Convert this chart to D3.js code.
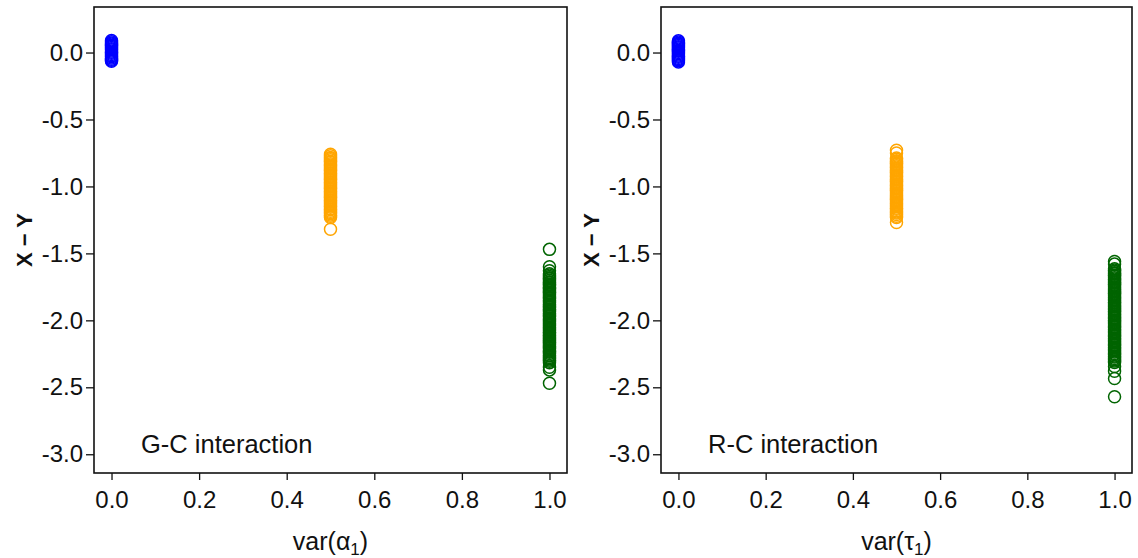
<!DOCTYPE html>
<html>
<head>
<meta charset="utf-8">
<script src="https://cdn.jsdelivr.net/npm/d3@7"></script>
<style>
  body { margin: 0; background: #fff; }
  svg { display: block; }
  text { font-family: "Liberation Sans", Arial, Helvetica, sans-serif; }
</style>
</head>
<body>
<svg id="chart" width="1138" height="558"></svg>
<script>
// ---------- data ----------
const xTicks = [0.0, 0.2, 0.4, 0.6, 0.8, 1.0];
const yTicks = [0.0, -0.5, -1.0, -1.5, -2.0, -2.5, -3.0];
const groupX = [0.0, 0.5, 1.0];
const groupColors = ["#0000FF", "#FFA500", "#006400"];

const gcBlue = [0.090, 0.081, 0.072, 0.063, 0.055, 0.046, 0.037, 0.029, 0.020, 0.011, 0.003, -0.006, -0.015, -0.024, -0.032, -0.041, -0.050, -0.058, -0.065];
const gcOrange = [-0.760, -0.770, -0.783, -0.792, -0.801, -0.812, -0.820, -0.831, -0.839, -0.850, -0.859, -0.868, -0.879, -0.887, -0.898, -0.906, -0.917, -0.926, -0.935, -0.946, -0.954, -0.965, -0.973, -0.984, -0.993, -1.002, -1.013, -1.021, -1.032, -1.040, -1.051, -1.060, -1.069, -1.080, -1.088, -1.099, -1.107, -1.118, -1.127, -1.136, -1.147, -1.155, -1.166, -1.174, -1.185, -1.194, -1.203, -1.214, -1.222, -1.232, -1.320];
const gcGreen = [-1.47, -1.60, -1.63, -1.652, -1.661, -1.673, -1.682, -1.690, -1.701, -1.712, -1.720, -1.731, -1.739, -1.751, -1.760, -1.768, -1.779, -1.790, -1.798, -1.809, -1.818, -1.829, -1.837, -1.848, -1.856, -1.867, -1.878, -1.886, -1.897, -1.905, -1.916, -1.925, -1.934, -1.945, -1.953, -1.964, -1.972, -1.983, -1.991, -2.002, -2.011, -2.020, -2.031, -2.040, -2.049, -2.058, -2.069, -2.077, -2.088, -2.096, -2.107, -2.115, -2.126, -2.135, -2.144, -2.153, -2.164, -2.172, -2.183, -2.191, -2.202, -2.210, -2.221, -2.230, -2.239, -2.248, -2.259, -2.267, -2.278, -2.286, -2.297, -2.305, -2.316, -2.350, -2.370, -2.470];

const rcBlue = [0.088, 0.079, 0.070, 0.061, 0.052, 0.044, 0.035, 0.026, 0.017, 0.009, 0.000, -0.009, -0.018, -0.027, -0.035, -0.044, -0.053, -0.062, -0.070];
const rcOrange = [-0.730, -0.750, -0.788, -0.797, -0.808, -0.816, -0.827, -0.835, -0.846, -0.855, -0.864, -0.875, -0.883, -0.894, -0.902, -0.913, -0.922, -0.931, -0.942, -0.950, -0.961, -0.969, -0.980, -0.989, -0.998, -1.009, -1.017, -1.028, -1.036, -1.047, -1.056, -1.065, -1.076, -1.084, -1.095, -1.103, -1.114, -1.123, -1.132, -1.143, -1.151, -1.162, -1.170, -1.181, -1.190, -1.199, -1.210, -1.222, -1.232, -1.270];
const rcGreen = [-1.56, -1.58, -1.615, -1.624, -1.633, -1.644, -1.652, -1.663, -1.671, -1.682, -1.691, -1.700, -1.711, -1.719, -1.730, -1.738, -1.749, -1.758, -1.767, -1.778, -1.786, -1.797, -1.805, -1.816, -1.825, -1.834, -1.845, -1.853, -1.864, -1.872, -1.883, -1.892, -1.901, -1.912, -1.920, -1.931, -1.939, -1.950, -1.959, -1.968, -1.979, -1.987, -1.998, -2.006, -2.017, -2.026, -2.035, -2.046, -2.054, -2.065, -2.073, -2.084, -2.093, -2.102, -2.113, -2.121, -2.132, -2.140, -2.151, -2.160, -2.169, -2.180, -2.188, -2.199, -2.207, -2.218, -2.227, -2.236, -2.247, -2.255, -2.266, -2.274, -2.285, -2.294, -2.303, -2.314, -2.345, -2.380, -2.435, -2.570];

const panels = [
  { label: "G-C interaction", greek: "α", series: [gcBlue, gcOrange, gcGreen], box: [94, 567] },
  { label: "R-C interaction", greek: "τ", series: [rcBlue, rcOrange, rcGreen], box: [661, 1132] }
];

// ---------- drawing ----------
const svg = d3.select("#chart");
const boxTop = 7, boxBottom = 473;
const fmt = d => d.toFixed(1);
const FS = 24;

panels.forEach(p => {
  const x = d3.scaleLinear().domain([-0.04, 1.04]).range(p.box);
  const y = d3.scaleLinear().domain([-3.14, 0.34]).range([boxBottom, boxTop]);
  const g = svg.append("g");

  // points
  p.series.forEach((vals, i) => {
    g.append("g").selectAll("circle").data(vals).join("circle")
      .attr("cx", x(groupX[i]))
      .attr("cy", d => y(d))
      .attr("r", 6)
      .attr("fill", "none")
      .attr("stroke", groupColors[i])
      .attr("stroke-width", 1.5);
  });

  // box
  g.append("rect")
    .attr("x", p.box[0]).attr("y", boxTop)
    .attr("width", p.box[1] - p.box[0]).attr("height", boxBottom - boxTop)
    .attr("fill", "none").attr("stroke", "#111").attr("stroke-width", 1.6);

  // x axis
  const xa = g.append("g").attr("transform", `translate(0,${boxBottom})`)
    .call(d3.axisBottom(x).tickValues(xTicks).tickFormat(fmt).tickSize(7).tickPadding(11));
  xa.select(".domain").remove();
  xa.selectAll("line").attr("stroke", "#111").attr("stroke-width", 1.3);
  xa.selectAll("text").attr("font-size", FS).attr("fill", "#111")
    .attr("font-family", '"Liberation Sans", Arial, sans-serif');

  // y axis
  const ya = g.append("g").attr("transform", `translate(${p.box[0]},0)`)
    .call(d3.axisLeft(y).tickValues(yTicks).tickFormat(fmt).tickSize(8).tickPadding(3));
  ya.select(".domain").remove();
  ya.selectAll("line").attr("stroke", "#111").attr("stroke-width", 1.3);
  ya.selectAll("text").attr("font-size", FS).attr("fill", "#111")
    .attr("font-family", '"Liberation Sans", Arial, sans-serif');

  // y title
  g.append("text")
    .attr("transform", `translate(${p.box[0] - 62},${(boxTop + boxBottom) / 2}) rotate(-90)`)
    .attr("text-anchor", "middle")
    .attr("font-size", 22).attr("font-weight", "bold").attr("fill", "#111")
    .text("X − Y");

  // x title
  const xt = g.append("text")
    .attr("x", (x(0) + x(1)) / 2).attr("y", 550)
    .attr("text-anchor", "middle").attr("font-size", 25).attr("fill", "#111");
  xt.append("tspan").text("var(" + p.greek);
  xt.append("tspan").attr("font-size", 17).attr("dy", 5).text("1");
  xt.append("tspan").attr("dy", -5).text(")");

  // panel label
  g.append("text")
    .attr("x", p.box[0] + 47).attr("y", 453)
    .attr("font-size", 25.5).attr("fill", "#111")
    .text(p.label);
});
</script>
</body>
</html>
